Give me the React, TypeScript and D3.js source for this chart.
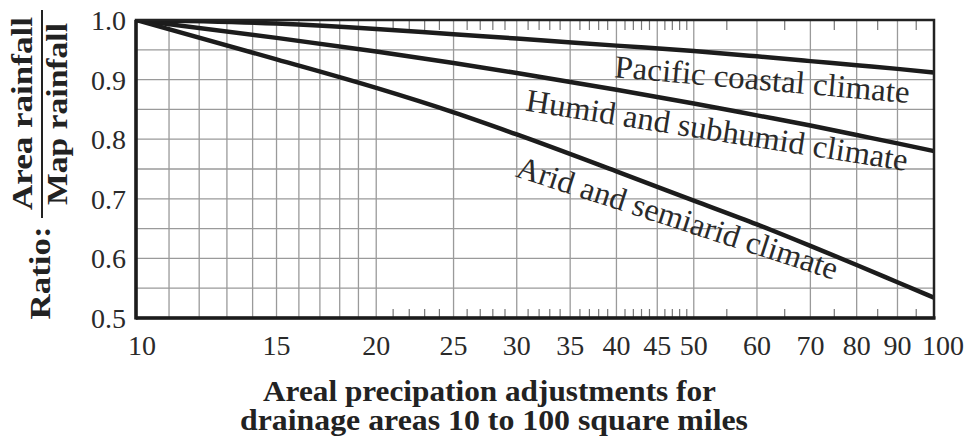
import React, { useRef, useEffect } from "react";
import * as d3 from "d3";

// drainage area (square miles) sampled along each curve
const areas = [10, 15, 20, 25, 30, 40, 50, 60, 70, 80, 90, 100];
const pacific = [1.0, 0.994, 0.985, 0.976, 0.969, 0.957, 0.948, 0.939, 0.931, 0.924, 0.918, 0.912];
const humid = [1.0, 0.97, 0.947, 0.928, 0.911, 0.883, 0.86, 0.84, 0.823, 0.807, 0.793, 0.78];
const arid = [1.0, 0.934, 0.886, 0.845, 0.808, 0.746, 0.697, 0.657, 0.621, 0.589, 0.56, 0.534];

const gridAreas = [11, 12, 13, 14, 15, 16, 17, 18, 19, 20, 25, 30, 35, 40, 45, 50, 60, 70, 80, 90];
const minorAreas = [21, 22, 23, 24, 26, 27, 28, 29, 31, 32, 33, 34, 36, 37, 38, 39, 41, 42, 43, 44, 46, 47, 48, 49, 55, 65, 75, 85, 95];
const gridRatios = [0.55, 0.6, 0.65, 0.7, 0.75, 0.8, 0.85, 0.9, 0.95];
const xTickLabels = [10, 15, 20, 25, 30, 35, 40, 45, 50, 60, 70, 80, 90, 100];
const yTickLabels = [0.5, 0.6, 0.7, 0.8, 0.9, 1.0];

const curveNames = ["Pacific coastal climate", "Humid and subhumid climate", "Arid and semiarid climate"];
const labelAreas = [39.7, 30.7, 29.8];
const labelRatios = [0.904, 0.848, 0.738];
const labelAngles = [5, 9, 18];
const labelLengths = [296, 386, 336];

const W = 970;
const H = 448;
const FONT = "'Liberation Serif', 'Times New Roman', serif";

export default function App() {
  const ref = useRef<SVGSVGElement>(null);

  useEffect(() => {
    if (!ref.current) return;
    const svg = d3.select(ref.current);
    svg.selectAll("*").remove();

    const x = d3.scaleLog().domain([10, 100]).range([136, 934]);
    const y = d3.scaleLinear().domain([0.5, 1.0]).range([318, 20]);
    const [x0, x1] = x.range();
    const [y0, y1] = y.range();

    svg.append("defs").append("clipPath").attr("id", "plot")
      .append("rect").attr("x", x0).attr("y", y1).attr("width", x1 - x0).attr("height", y0 - y1);

    const g = svg.append("g");

    // grid
    g.selectAll("line.vg").data(gridAreas).enter().append("line")
      .attr("x1", (d) => x(d)).attr("x2", (d) => x(d))
      .attr("y1", y1).attr("y2", y0)
      .attr("stroke", "#9a9a9a").attr("stroke-width", 1.3);
    g.selectAll("line.hg").data(gridRatios).enter().append("line")
      .attr("x1", x0).attr("x2", x1)
      .attr("y1", (d) => y(d)).attr("y2", (d) => y(d))
      .attr("stroke", "#9a9a9a").attr("stroke-width", 1.3);

    // minor ticks on top and bottom edges
    g.selectAll("line.mt").data(minorAreas).enter().append("line")
      .attr("x1", (d) => x(d)).attr("x2", (d) => x(d))
      .attr("y1", y1).attr("y2", y1 + 10)
      .attr("stroke", "#777").attr("stroke-width", 1.2);
    g.selectAll("line.mb").data(minorAreas).enter().append("line")
      .attr("x1", (d) => x(d)).attr("x2", (d) => x(d))
      .attr("y1", y0 - 9).attr("y2", y0)
      .attr("stroke", "#777").attr("stroke-width", 1.2);

    // curves
    const line = d3.line<number>()
      .x((_d, i) => x(areas[i]))
      .y((d) => y(d))
      .curve(d3.curveMonotoneX);
    g.append("g").attr("clip-path", "url(#plot)")
      .selectAll("path").data([pacific, humid, arid]).enter().append("path")
      .attr("d", (d) => line(d))
      .attr("fill", "none")
      .attr("stroke", "#1c1c1c")
      .attr("stroke-width", 4.5);

    // frame
    g.append("rect")
      .attr("x", x0).attr("y", y1).attr("width", x1 - x0).attr("height", y0 - y1)
      .attr("fill", "none").attr("stroke", "#222").attr("stroke-width", 2.5);
    g.append("line").attr("x1", x0).attr("x2", x0).attr("y1", y1).attr("y2", y0 + 1.5)
      .attr("stroke", "#1c1c1c").attr("stroke-width", 3.5);
    g.append("line").attr("x1", x0).attr("x2", x1 + 1.5).attr("y1", y0).attr("y2", y0)
      .attr("stroke", "#1c1c1c").attr("stroke-width", 3.5);

    // curve labels
    g.selectAll("text.cl").data(curveNames).enter().append("text")
      .attr("transform", (_d, i) => `translate(${x(labelAreas[i])},${y(labelRatios[i])}) rotate(${labelAngles[i]})`)
      .attr("font-family", FONT).attr("font-size", 32).attr("fill", "#2a2a2a")
      .attr("textLength", (_d, i) => labelLengths[i])
      .attr("lengthAdjust", "spacingAndGlyphs")
      .text((d) => d);

    // y tick labels
    g.selectAll("text.yt").data(yTickLabels).enter().append("text")
      .attr("x", 126).attr("y", (d) => y(d) + 10)
      .attr("text-anchor", "end")
      .attr("font-family", FONT).attr("font-size", 28).attr("fill", "#2a2a2a")
      .text((d) => d.toFixed(1));

    // x tick labels
    g.selectAll("text.xt").data(xTickLabels).enter().append("text")
      .attr("x", (d) => x(d) + (d === 10 ? 6 : d === 100 ? 9 : 0)).attr("y", 355)
      .attr("text-anchor", "middle")
      .attr("font-family", FONT).attr("font-size", 28).attr("fill", "#2a2a2a")
      .text((d) => String(d));

    // x axis title
    const title = ["Areal precipation adjustments for", "drainage areas 10 to 100 square miles"];
    const titleLen = [453, 508];
    g.selectAll("text.xtitle").data(title).enter().append("text")
      .attr("x", (_d, i) => (i === 0 ? 489.5 : 494))
      .attr("y", (_d, i) => 401 + i * 29)
      .attr("text-anchor", "middle")
      .attr("font-family", FONT).attr("font-size", 28.5).attr("font-weight", "bold").attr("fill", "#222")
      .attr("textLength", (_d, i) => titleLen[i])
      .attr("lengthAdjust", "spacingAndGlyphs")
      .text((d) => d);

    // y axis title: Ratio: Area rainfall / Map rainfall
    const yl = g.append("g").attr("font-family", FONT).attr("font-weight", "bold")
      .attr("font-size", 30).attr("fill", "#222").attr("text-anchor", "middle");
    yl.append("text").attr("transform", "translate(50,273) rotate(-90)")
      .attr("textLength", 93).attr("lengthAdjust", "spacingAndGlyphs").text("Ratio:");
    yl.append("text").attr("transform", "translate(32,113.5) rotate(-90)")
      .attr("textLength", 193).attr("lengthAdjust", "spacingAndGlyphs").text("Area rainfall");
    yl.append("text").attr("transform", "translate(67,114) rotate(-90)")
      .attr("textLength", 182).attr("lengthAdjust", "spacingAndGlyphs").text("Map rainfall");
    g.append("line").attr("x1", 42).attr("x2", 42).attr("y1", 10).attr("y2", 218)
      .attr("stroke", "#222").attr("stroke-width", 2);
  }, []);

  return (
    <svg
      ref={ref}
      width={W}
      height={H}
      viewBox={`0 0 ${W} ${H}`}
      style={{ position: "absolute", left: 0, top: 0, background: "#fff" }}
    />
  );
}
